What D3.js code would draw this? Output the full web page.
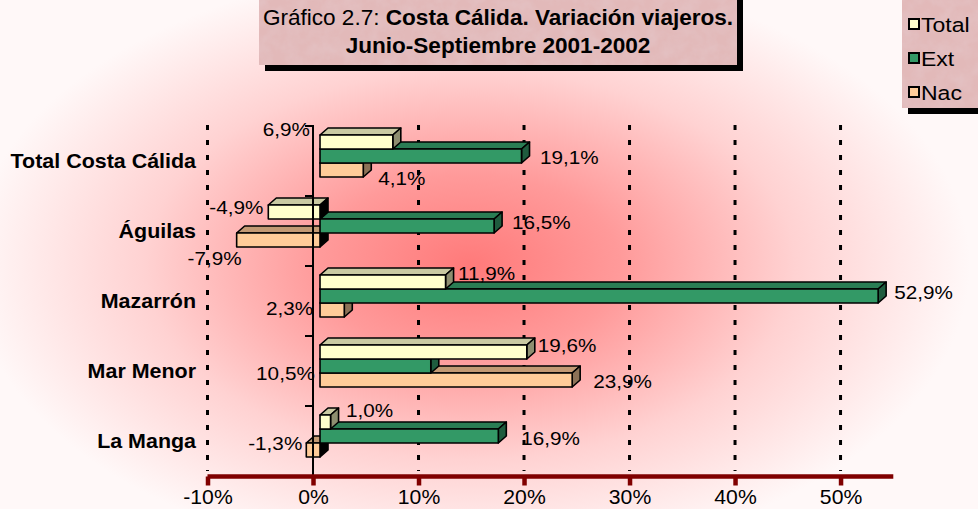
<!DOCTYPE html>
<html>
<head>
<meta charset="utf-8">
<script src="https://cdn.jsdelivr.net/npm/d3@7"></script>
<style>
  html, body { margin: 0; padding: 0; background: #fff; }
  svg text { font-family: "Liberation Sans", Arial, Helvetica, sans-serif; }
</style>
</head>
<body>
<div id="chart"></div>
<script>
// data
const categories = ["Total Costa Cálida", "Águilas", "Mazarrón", "Mar Menor", "La Manga"];
const seriesNames = ["Total", "Ext", "Nac"];
const totalValues = [6.9, -4.9, 11.9, 19.6, 1.0];
const extValues = [19.1, 16.5, 52.9, 10.5, 16.9];
const nacValues = [4.1, -7.9, 2.3, 23.9, -1.3];
const tickValues = [-10, 0, 10, 20, 30, 40, 50];
const titleLine1Plain = "Gráfico 2.7: ";
const titleLine1Bold = "Costa Cálida. Variación viajeros.";
const titleLine2 = "Junio-Septiembre 2001-2002";

// manual label placement (offset from bar end), as in the original
const labelNudge = {
    Total: [[-83, -13.5, "end"], [-5, -5, "end"], [12.5, -9, "start"], [11, -7, "start"], [15.5, -12, "start"]],
    Ext: [[18.5, 1, "start"], [18, -4, "start"], [16, -4, "start"], [-116, 7, "end"], [23, 2, "start"]],
    Nac: [[15, 8, "start"], [5, 18, "end"], [-31, -2, "end"], [21, 1, "start"], [-4, -7, "end"]]
};

const colors = {
    Total: { front: "#FFFFCC", top: "#C9C9A2", side: "#8E8E70" },
    Ext: { front: "#339966", top: "#2A7D54", side: "#1F5C3E" },
    Nac: { front: "#FFCC99", top: "#C39A74", side: "#8C7257" }
};

const width = 978, height = 509;
const depthX = 8, depthY = -7, frontShift = 7;

const locale = d3.formatLocale({ decimal: ",", thousands: ".", grouping: [3], currency: ["", "€"], minus: "-" });
const fmt = v => locale.format(".1f")(v) + "%";

// text drawn a little wider than Liberation Sans, like the original face
function wideText(sel, px, py, sx) {
    return sel.attr("x", 0).attr("y", 0)
        .attr("transform", `translate(${px},${py}) scale(${sx},1)`);
}

const svg = d3.select("#chart").append("svg")
    .attr("width", width)
    .attr("height", height);

const defs = svg.append("defs");

const bg = defs.append("radialGradient")
    .attr("id", "bgGrad")
    .attr("gradientUnits", "userSpaceOnUse")
    .attr("cx", 470).attr("cy", 265).attr("r", 500)
    .attr("gradientTransform", "translate(470,265) scale(1,0.6) translate(-470,-265)");
bg.append("stop").attr("offset", 0).attr("stop-color", "#FF7A7A");
bg.append("stop").attr("offset", 0.3).attr("stop-color", "#FF9A9A");
bg.append("stop").attr("offset", 0.65).attr("stop-color", "#FFD2D2");
bg.append("stop").attr("offset", 1).attr("stop-color", "#FFF8F8");

// marble texture for title and legend boxes
const marble = defs.append("filter").attr("id", "marble")
    .attr("x", 0).attr("y", 0).attr("width", 1).attr("height", 1);
marble.append("feTurbulence")
    .attr("type", "fractalNoise")
    .attr("baseFrequency", 0.07)
    .attr("numOctaves", 4)
    .attr("seed", 5)
    .attr("result", "noise");
marble.append("feColorMatrix")
    .attr("in", "noise")
    .attr("type", "matrix")
    .attr("values", "0 0 0 0 0.78  0 0 0 0 0.58  0 0 0 0 0.60  0.9 0 0 0 -0.3")
    .attr("result", "tint");
marble.append("feComposite")
    .attr("in", "tint").attr("in2", "SourceGraphic").attr("operator", "in");

svg.append("rect")
    .attr("width", width).attr("height", height)
    .attr("fill", "url(#bgGrad)");

const x = d3.scaleLinear().domain([-10, 55]).range([207.5, 893.3]);
const y = d3.scaleBand().domain(categories).range([126, 476]);
const ySeries = d3.scaleBand().domain(seriesNames).range([9, 51]);

// dotted gridlines
svg.append("g")
    .selectAll("line")
    .data(tickValues.filter(d => d !== 0))
    .enter().append("line")
    .attr("x1", d => x(d)).attr("x2", d => x(d))
    .attr("y1", 125).attr("y2", 471)
    .attr("stroke", "#000")
    .attr("stroke-width", 3)
    .attr("stroke-dasharray", "5 10");

// bars
const rows = categories.map((c, i) => ({
    category: c,
    bars: [
        { series: "Nac", value: nacValues[i] },
        { series: "Ext", value: extValues[i] },
        { series: "Total", value: totalValues[i] }
    ]
}));

const barG = svg.append("g");
rows.forEach(row => {
    row.bars.forEach(b => {
        const col = colors[b.series];
        const xl = x(Math.min(0, b.value)) + frontShift;
        const xr = x(Math.max(0, b.value)) + frontShift;
        const yt = y(row.category) + ySeries(b.series);
        const yb = yt + ySeries.bandwidth();
        const g = barG.append("g")
            .attr("stroke", "#000")
            .attr("stroke-width", 1.6)
            .attr("stroke-linejoin", "round");
        g.append("path")
            .attr("d", `M${xl},${yt}L${xl + depthX},${yt + depthY}L${xr + depthX},${yt + depthY}L${xr},${yt}Z`)
            .attr("fill", col.top);
        g.append("path")
            .attr("d", `M${xr},${yt}L${xr + depthX},${yt + depthY}L${xr + depthX},${yb + depthY}L${xr},${yb}Z`)
            .attr("fill", b.value < 0 ? "#000" : col.side);
        g.append("rect")
            .attr("x", xl).attr("y", yt)
            .attr("width", xr - xl).attr("height", yb - yt)
            .attr("fill", col.front);
    });
});

// zero axis with category ticks
svg.append("line")
    .attr("x1", x(0)).attr("x2", x(0))
    .attr("y1", 125).attr("y2", 477)
    .attr("stroke", "#000").attr("stroke-width", 2);

svg.append("g")
    .selectAll("line")
    .data(categories.map(c => y(c)).concat([y.range()[1]]))
    .enter().append("line")
    .attr("x1", x(0) - 8).attr("x2", x(0))
    .attr("y1", d => d).attr("y2", d => d)
    .attr("stroke", "#000").attr("stroke-width", 2);

// x axis
const xAxis = d3.axisBottom(x)
    .tickValues(tickValues)
    .tickSize(9)
    .tickFormat(d => d + "%");
const axisG = svg.append("g")
    .attr("transform", "translate(0,476.5)")
    .call(xAxis);
axisG.select(".domain")
    .attr("d", `M${x(-10)},0H${x(55)}`)
    .attr("stroke", "#800000")
    .attr("stroke-width", 4.5);
axisG.selectAll(".tick line")
    .attr("stroke", "#800000")
    .attr("stroke-width", 4.5);
axisG.selectAll(".tick text")
    .attr("dy", 0)
    .attr("fill", "#000")
    .style("font-size", "20px")
    .style("font-family", "'Liberation Sans', Arial, sans-serif")
    .each(function () { wideText(d3.select(this), 0, 27.5, 1.06); });

// category labels
svg.append("g")
    .selectAll("text")
    .data(categories)
    .enter().append("text")
    .each(function (d) { wideText(d3.select(this), 196, y(d) + y.bandwidth() / 2 + 7, 1.1); })
    .attr("text-anchor", "end")
    .style("font-size", "19.5px")
    .style("font-weight", "bold")
    .text(d => d);

// value labels
const valueSets = { Total: totalValues, Ext: extValues, Nac: nacValues };
const labelG = svg.append("g");
seriesNames.forEach(s => {
    valueSets[s].forEach((v, i) => {
        const n = labelNudge[s][i];
        const refX = x(v) + frontShift;
        const refY = y(categories[i]) + ySeries(s) + ySeries.bandwidth() / 2;
        const t = labelG.append("text")
            .attr("text-anchor", n[2])
            .style("font-size", "19px")
            .text(fmt(v));
        wideText(t, refX + n[0], refY + n[1] + 7, 1.09);
    });
});

// title box
const tBox = { x: 259, y: -6, w: 478, h: 71 };
svg.append("rect")
    .attr("x", tBox.x + 6).attr("y", tBox.y + 6)
    .attr("width", tBox.w).attr("height", tBox.h)
    .attr("fill", "#000");
svg.append("rect")
    .attr("x", tBox.x).attr("y", tBox.y)
    .attr("width", tBox.w).attr("height", tBox.h)
    .attr("fill", "#E2B9B9");
svg.append("rect")
    .attr("x", tBox.x).attr("y", tBox.y)
    .attr("width", tBox.w).attr("height", tBox.h)
    .attr("fill", "#fff")
    .attr("filter", "url(#marble)");

const t1 = svg.append("text")
    .attr("text-anchor", "middle")
    .style("font-size", "21.5px");
wideText(t1, tBox.x + tBox.w / 2, 25, 1.05);
t1.append("tspan").text(titleLine1Plain);
t1.append("tspan").style("font-weight", "bold").text(titleLine1Bold);

const t2 = svg.append("text")
    .attr("text-anchor", "middle")
    .style("font-size", "21.5px")
    .style("font-weight", "bold")
    .text(titleLine2);
wideText(t2, tBox.x + tBox.w / 2, 53, 1.05);

// legend
const lBox = { x: 902, y: -6, w: 90, h: 114 };
svg.append("rect")
    .attr("x", lBox.x + 6).attr("y", lBox.y + 6)
    .attr("width", lBox.w).attr("height", lBox.h)
    .attr("fill", "#000");
svg.append("rect")
    .attr("x", lBox.x).attr("y", lBox.y)
    .attr("width", lBox.w).attr("height", lBox.h)
    .attr("fill", "#E2B9B9");
svg.append("rect")
    .attr("x", lBox.x).attr("y", lBox.y)
    .attr("width", lBox.w).attr("height", lBox.h)
    .attr("fill", "#fff")
    .attr("filter", "url(#marble)");

const legendY = d3.scalePoint().domain(seriesNames).range([24, 92]);
const keys = svg.append("g")
    .selectAll("g")
    .data(seriesNames)
    .enter().append("g")
    .attr("transform", d => `translate(909,${legendY(d)})`);
keys.append("rect")
    .attr("x", 0).attr("y", -5)
    .attr("width", 10).attr("height", 10)
    .attr("fill", d => colors[d].front)
    .attr("stroke", "#000")
    .attr("stroke-width", 2);
keys.append("text")
    .each(function () { wideText(d3.select(this), 12, 7.5, 1.18); })
    .style("font-size", "19.5px")
    .text(d => d);
</script>
</body>
</html>
